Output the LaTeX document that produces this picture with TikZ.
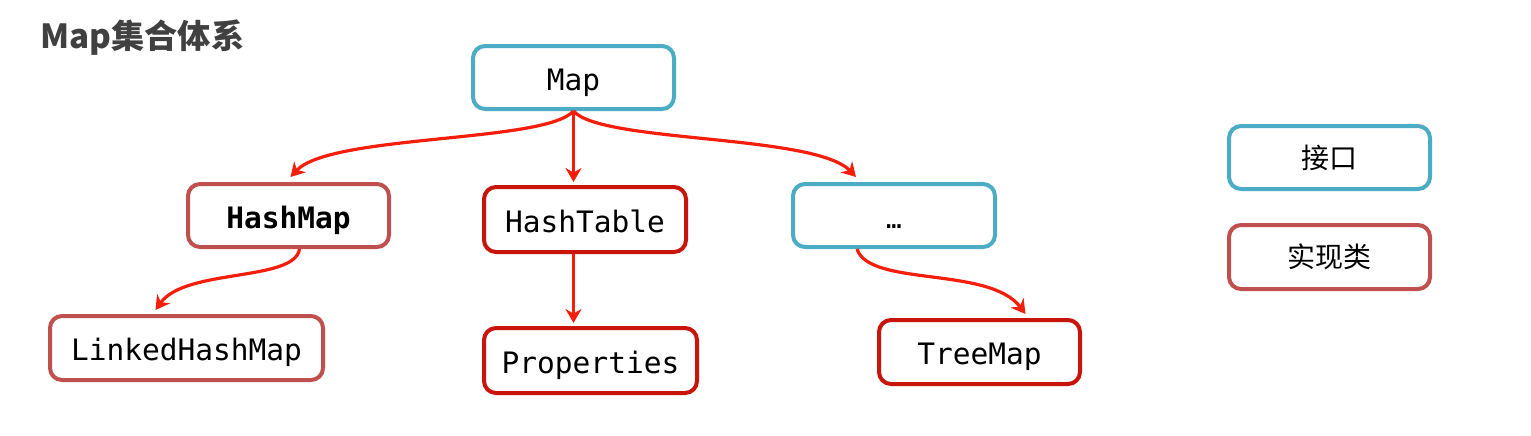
\documentclass[tikz,border=0pt]{standalone}
\usepackage{fontspec}
\setmonofont{DejaVu Sans Mono}
\newfontfamily\cjk{Noto Sans CJK SC}
\usetikzlibrary{arrows.meta,calc}
\definecolor{ifblue}{RGB}{75,172,198}
\definecolor{implred}{RGB}{192,80,77}
\definecolor{darkred}{RGB}{200,20,10}
\definecolor{arrred}{RGB}{245,30,10}
\definecolor{titlegray}{RGB}{64,64,64}
\tikzset{
  box/.style={draw, line width=2pt, rounded corners=6pt, fill=white, inner sep=0pt,
    minimum width=100.5pt, minimum height=31.5pt, text height=12.5pt, text depth=0pt,
    font=\ttfamily\fontsize{14.75}{16}\selectfont},
  iface/.style={box, draw=ifblue},
  impl/.style={box, draw=implred},
  implb/.style={box, draw=darkred},
  legend/.style={font=\cjk\fontsize{14}{16}\selectfont, text height=10.6pt, text depth=0pt},
  arr/.style={draw=arrred, line width=1.6pt, -{Stealth[length=7pt,width=8pt]}},
}
\begin{document}
\begin{tikzpicture}[x=0.5pt, y=-0.5pt]
\useasboundingbox (0,0) rectangle (1531,435);
\node[anchor=base west, inner sep=0pt, text=titlegray, font=\cjk\bfseries\fontsize{16.6}{18}\selectfont] (title) at (40,48) {Map集合体系};
\node[iface] (map) at (573.5,77.5) {Map};
\node[impl] (hm) at (288.5,215.5) {\bfseries HashMap};
\node[implb, minimum width=101pt, minimum height=32.5pt] (ht) at (585,219.5) {HashTable};
\node[iface, minimum width=101pt] (dots) at (894,215.5) {{\fontsize{13}{14}\selectfont …}};
\node[impl, minimum width=136.5pt, minimum height=32pt] (lhm) at (186.5,348) {LinkedHashMap};
\node[implb, minimum width=106.5pt, minimum height=32.5pt] (pr) at (590.5,360.5) {Properties};
\node[implb, minimum height=32pt] (tm) at (979.5,352) {TreeMap};
\node[iface, legend] (lif) at (1329.5,157.5) {接口};
\node[impl, legend, minimum height=32pt] (lim) at (1329.5,257) {实现类};
\draw[arr] (map.south) .. controls +(-28,32) and +(40,-43) .. ($(hm.north)+(2,-5)$);
\draw[arr] (map.south) .. controls +(27,32) and +(-41,-43) .. ($(dots.north)+(-38,-5)$);
\draw[arr] (map.south) -- ($(map.south |- ht.north)+(0,-3)$);
\draw[arr] ($(hm.south)+(11,0)$) .. controls +(-5,33) and +(30,-42) .. ($(lhm.north)+(-31,-4)$);
\draw[arr] (map.south |- ht.south) -- ($(map.south |- pr.north)+(0,-3)$);
\draw[arr] ($(dots.south)+(-37,0)$) .. controls +(12,38) and +(-36,-48) .. ($(tm.north)+(46,-4)$);
\end{tikzpicture}
\end{document}
